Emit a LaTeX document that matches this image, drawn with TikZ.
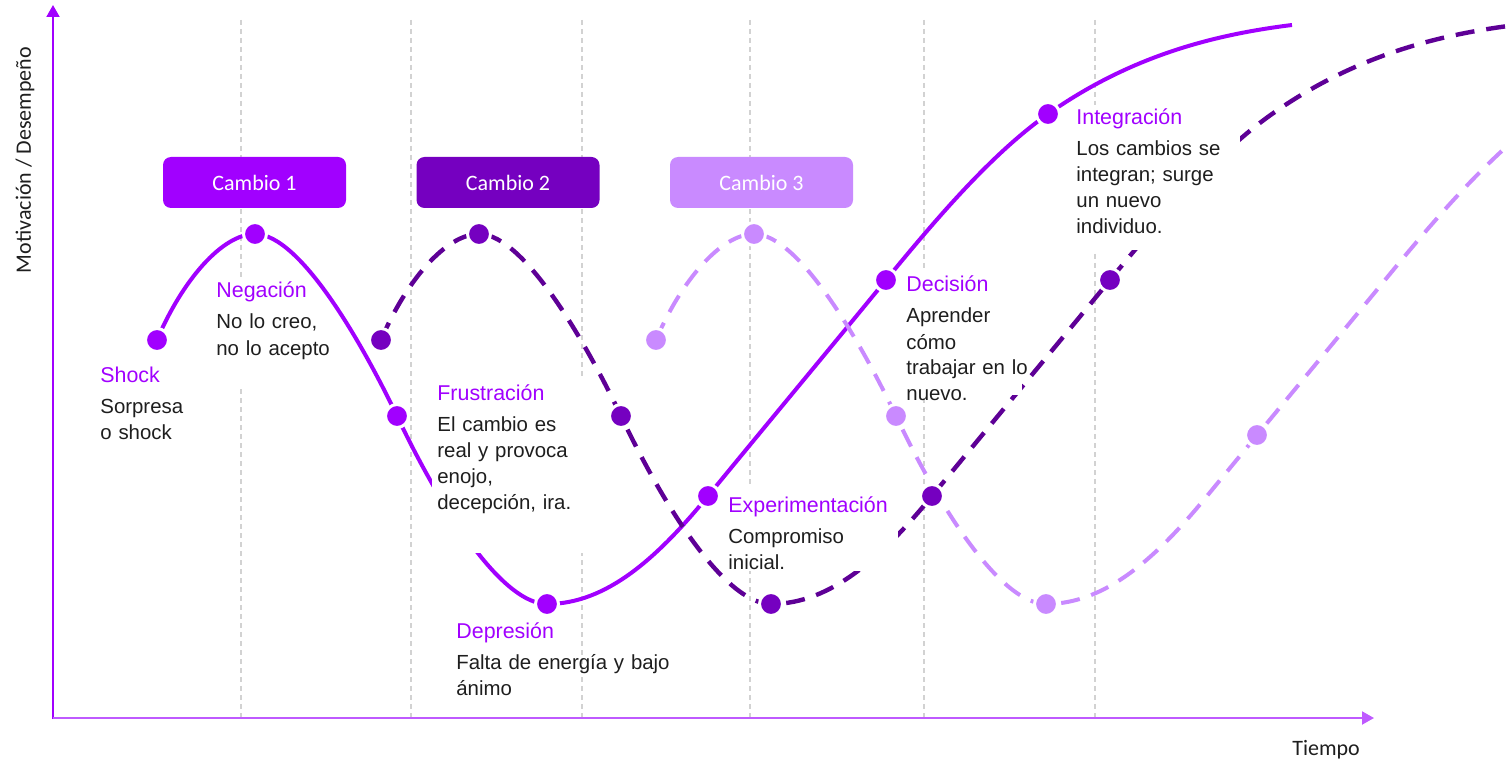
\documentclass[tikz,border=0pt]{standalone}
\usepackage{fontspec}
\setmainfont{Liberation Sans}
\newfontfamily\carlito{Carlito}
\usetikzlibrary{arrows.meta}
\definecolor{pA}{HTML}{A100FF}
\definecolor{pB}{HTML}{7500C0}
\definecolor{pBline}{HTML}{5E0096}
\definecolor{pC}{HTML}{C98AFF}
\definecolor{xax}{HTML}{BF5AFF}
\definecolor{gridc}{HTML}{D2D2D2}
\definecolor{txt}{HTML}{1E1E1E}
\newcommand\hdtxt[1]{{\color{pA}\fontsize{10.7}{13}\selectfont #1}}
\begin{document}
\begin{tikzpicture}[x=0.5pt,y=-0.5pt,
  gridln/.style={gridc, line width=0.6pt, dash pattern=on 2.5pt off 2pt},
  axisln/.style={line width=1pt, -{Triangle[length=6pt,width=6.5pt]}},
  chg/.style={rounded corners=4pt, minimum width=91.5pt, minimum height=25.5pt, text=white, font=\carlito\fontsize{11}{13}\selectfont, inner sep=0pt},
  solidwave/.style={draw=pA, line width=2pt},
  darkwave/.style={draw=pBline, line width=2.2pt, dash pattern=on 9.5pt off 6pt},
  lightwave/.style={draw=pC, line width=2pt, dash pattern=on 9.5pt off 6pt},
  dotA/.style={circle, inner sep=0pt, minimum size=11.5pt, fill=pA, draw=white, line width=1.5pt},
  dotB/.style={dotA, fill=pB},
  dotC/.style={dotA, fill=pC},
  lbl/.style={anchor=base west, align=left, text width=130pt, inner sep=0pt, font=\fontsize{10.2}{13}\selectfont, text=txt},
  axlbl/.style={font=\carlito\fontsize{11}{13}\selectfont, text=txt, inner sep=0pt},
  mask/.style={fill=white},
  wave/.pic={\path[pic actions] (157,340) .. controls (182,281) and (222,234) .. (255,234)
    .. controls (302,234) and (367,353) .. (397,416)
    .. controls (447,521) and (505,604) .. (547,604)
    .. controls (607,604) and (658,557) .. (708,496)
    .. controls (767,424) and (827,352) .. (886,280)
    .. controls (940,214) and (994,152) .. (1048,114)
    .. controls (1129,57) and (1211,35) .. (1292,25);}
]
\useasboundingbox (0,0) rectangle (1509,759);
\clip (0,0) rectangle (1509,759);

% grid
\foreach \gx in {241,411,582,750,924,1095}{\draw[gridln] (\gx,20) -- (\gx,717);}

% axes
\coordinate (origin) at (53,718);
\coordinate (ytop) at (53,5);
\coordinate (xend) at (1374,718);
\draw[axisln, pA] (53,719) -- (ytop);
\draw[axisln, xax] (origin) -- (xend);
\node[axlbl, rotate=90, anchor=base] (ylab) at (31,160) {Motivación / Desempeño};
\node[axlbl, anchor=base] (xlab) at (1326,755) {Tiempo};

% change boxes
\node[chg, fill=pA] (c1) at (254.5,182.5) {Cambio 1};
\node[chg, fill=pB] (c2) at (508,182.5) {Cambio 2};
\node[chg, fill=pC] (c3) at (761.5,182.5) {Cambio 3};

% curves
\pic[solidwave] at (0,0) {wave};
\pic[darkwave] at (224,0) {wave};
\pic[lightwave] at (499,0) {wave};

% white masks behind labels
\fill[mask] (212,277) rectangle (300,385);
\fill[mask] (432,380) rectangle (596,553);
\fill[mask] (722,487) rectangle (898,571);
\fill[mask] (904,268) rectangle (1022,395);
\fill[mask] (1070,105) rectangle (1240,250);

% dots
\foreach \px/\py/\nm in {157/340/a1,255/234/a2,397/416/a3,547/604/a4,708/496/a5,886/280/a6,1048/114/a7}
  {\node[dotA] (\nm) at (\px,\py) {};}
\foreach \px/\py/\nm in {381/340/b1,479/234/b2,621/416/b3,771/604/b4,932/496/b5,1110/280/b6}
  {\node[dotB] (\nm) at (\px,\py) {};}
\foreach \px/\py/\nm in {656/340/l1,754/234/l2,896/416/l3,1046/604/l4,1257/435/l5}
  {\node[dotC] (\nm) at (\px,\py) {};}

% labels
\node[lbl] (shock) at (100,382) {\hdtxt{Shock}\\[2.5pt]Sorpresa\\o shock};
\node[lbl] (neg) at (216,298) {\hdtxt{Negación}\\[2.5pt]No lo creo,\\no lo acepto};
\node[lbl] (fru) at (437,400) {\hdtxt{Frustración}\\[2.5pt]El cambio es\\real y provoca\\enojo,\\decepción, ira.};
\node[lbl] (dep) at (456,638) {\hdtxt{Depresión}\\[2.5pt]Falta de energía y bajo\\ánimo};
\node[lbl] (exp) at (728,512) {\hdtxt{Experimentación}\\[2.5pt]Compromiso\\inicial.};
\node[lbl] (dec) at (906,292) {\hdtxt{Decisión}\\[2.5pt]Aprender\\cómo\\trabajar en lo\\nuevo.};
\node[lbl] (int) at (1076,125) {\hdtxt{Integración}\\[2.5pt]Los cambios se\\integran; surge\\un nuevo\\individuo.};
\end{tikzpicture}
\end{document}
